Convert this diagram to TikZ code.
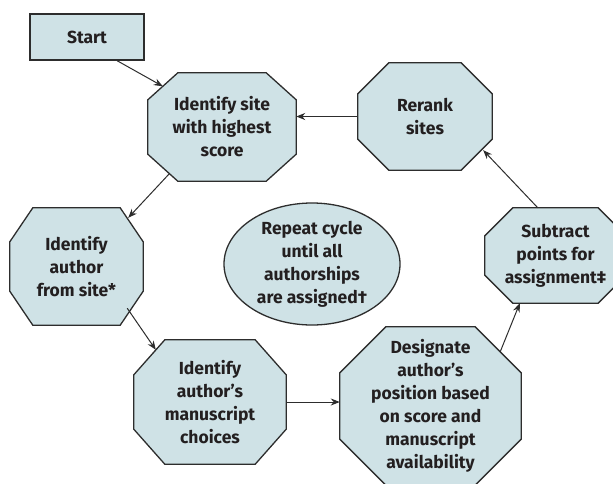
\documentclass[tikz,border=0pt]{standalone}
\usepackage{fontspec}
\setmainfont{Fira Sans}
\usetikzlibrary{arrows.meta,calc,backgrounds,shapes.geometric}
\definecolor{boxfill}{RGB}{207,226,230}
\definecolor{boxline}{RGB}{45,45,45}
\definecolor{txt}{RGB}{35,31,32}
\tikzset{
  lbl/.style={align=center,text=txt,font=\fontsize{17.5}{23}\selectfont\bfseries,inner sep=0pt},
  shapeline/.style={draw=boxline,fill=boxfill,line width=1.3pt,line join=miter},
  conn/.style={draw=boxline,line width=1pt,-{Stealth[length=9pt,width=7pt]}}
}
% name, cx, cy, w, h, xcut, ycut, text
\newcommand\octnode[8]{%
  \node[lbl,minimum width=#4pt,minimum height=#5pt] (#1) at (#2,#3) {#8};
  \begin{pgfonlayer}{background}
  \path[shapeline] ($(#1.north west)+(#6pt,0pt)$) -- ($(#1.north east)+(-#6pt,0pt)$)
    -- ($(#1.north east)+(0pt,-#7pt)$) -- ($(#1.south east)+(0pt,#7pt)$)
    -- ($(#1.south east)+(-#6pt,0pt)$) -- ($(#1.south west)+(#6pt,0pt)$)
    -- ($(#1.south west)+(0pt,#7pt)$) -- ($(#1.north west)+(0pt,-#7pt)$) -- cycle;
  \end{pgfonlayer}}
\begin{document}
\begin{tikzpicture}[x=1pt,y=-1pt]
\useasboundingbox (0,0) rectangle (613,483);
\begin{scope}
\clip (0,0) rectangle (613,483);
\node[lbl,shapeline,minimum width=114pt,minimum height=46pt] (start) at (87,37) {Start};
\octnode{site}{222}{127}{148}{108}{30}{27}{Identify site\\with highest\\score}
\octnode{rerank}{425}{116.5}{134}{107}{31}{31}{Rerank\\sites}
\octnode{author}{76.5}{266.5}{133}{117}{23}{34}{Identify\\author\\from site*}
\octnode{manu}{210}{402}{152}{124}{31}{35}{Identify\\author’s\\manuscript\\choices}
\octnode{desig}{430.5}{406}{181}{158}{46}{46}{Designate\\author’s\\position based\\on score and\\manuscript\\availability}
\octnode{subtr}{555.5}{255.5}{141}{95}{28}{28}{Subtract\\points for\\assignment‡}
\node[lbl,shapeline,ellipse,inner sep=0pt,minimum width=176pt,minimum height=122pt] (rep) at (312,264) {Repeat cycle\\until all\\authorships\\are assigned†};
\end{scope}
\draw[conn] ($(start.south)+(30pt,0pt)$) -- ($(site.north west)+(15pt,-13.5pt)$);
\draw[conn] (rerank.west) -- (rerank.west -| site.east);
\draw[conn] ($(site.south west)+(22pt,8pt)$) -- ($(author.north east)+(-15pt,-10pt)$);
\draw[conn] ($(author.south east)+(-16pt,17pt)$) -- ($(manu.north west)+(22pt,-10pt)$);
\draw[conn] (manu.east) -- (manu.east -| desig.west);
\draw[conn] ($(desig.north east)+(-21pt,-25pt)$) -- ($(subtr.south west)+(35pt,0pt)$);
\draw[conn] ($(subtr.north west)+(53pt,0pt)$) -- ($(rerank.south east)+(-9pt,20pt)$);
\end{tikzpicture}
\end{document}
